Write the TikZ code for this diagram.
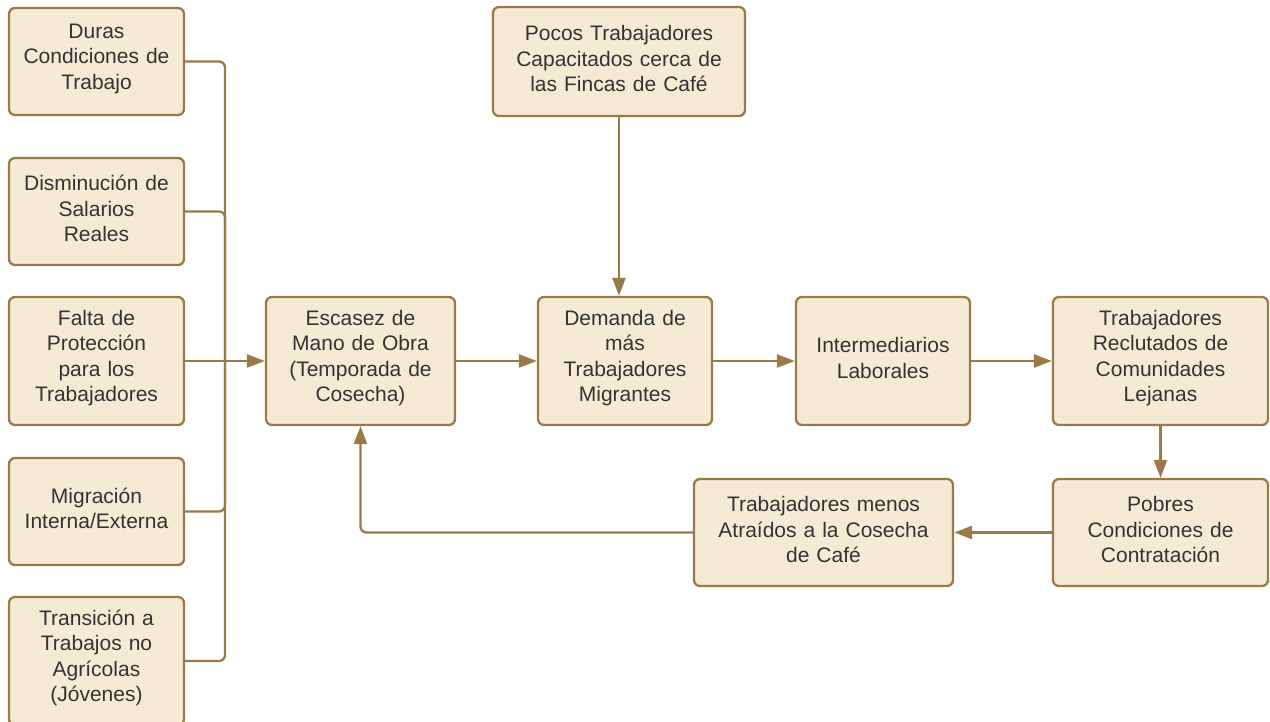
\documentclass[tikz,border=0pt]{standalone}
\usepackage{fontspec}
\setmainfont{Liberation Sans}
\usetikzlibrary{arrows.meta,positioning}
\definecolor{boxfill}{HTML}{F5EBD4}
\definecolor{boxline}{HTML}{9A7A47}
\definecolor{textcol}{HTML}{333333}
\begin{document}
\begin{tikzpicture}[x=1pt,y=-1pt,
        main node/.style={draw=boxline,fill=boxfill,line width=2.3pt,rounded corners=6pt,
            align=center,inner sep=0pt,text=textcol,font=\fontsize{21}{25.5}\selectfont,
            text width=#1,execute at end node={\vspace*{6pt}}},
        main node/.default=175pt,
        edge line/.style={draw=boxline,line width=2.3pt,rounded corners=6pt},
        arrow line/.style={edge line,-{Triangle[length=18pt,width=13pt]}}]

        \useasboundingbox (0,0) rectangle (1270,721);

        % Define vertices
        \node[main node,minimum height=107pt] (duras) at (96.5,61.5) {Duras\\Condiciones de\\Trabajo};
        \node[main node,minimum height=107pt] (salarios) at (96.5,211.5) {Disminución de\\Salarios\\Reales};
        \node[main node,minimum height=128pt] (proteccion) at (96.5,361) {Falta de\\Protección\\para los\\Trabajadores};
        \node[main node,minimum height=107pt] (migracion) at (96.5,511.5) {Migración\\Interna/Externa};
        \node[main node,minimum height=128pt] (transicion) at (96.5,661) {Transición a\\Trabajos no\\Agrícolas\\(Jóvenes)};

        \node[main node=189pt,minimum height=128pt] (escasez) at (360.5,361) {Escasez de\\Mano de Obra\\(Temporada de\\Cosecha)};
        \node[main node=174pt,minimum height=128pt] (demanda) at (625,361) {Demanda de\\más\\Trabajadores\\Migrantes};
        \node[main node=252pt,minimum height=109pt] (pocos) at (619,61.5) {Pocos Trabajadores\\Capacitados cerca de\\las Fincas de Café};
        \node[main node=174pt,minimum height=128pt] (interm) at (883,361) {Intermediarios\\Laborales};
        \node[main node=215pt,minimum height=128pt] (reclut) at (1160.5,361) {Trabajadores\\Reclutados de\\Comunidades\\Lejanas};
        \node[main node=215pt,minimum height=107pt] (pobres) at (1160.5,532.5) {Pobres\\Condiciones de\\Contratación};
        \node[main node=259pt,minimum height=107pt] (menos) at (823.5,532.5) {Trabajadores menos\\Atraídos a la Cosecha\\de Café};

        \coordinate (bus) at (225,361);

        % Draw edges
        \path[edge line] (duras.east) -| (bus);
        \path[edge line] (salarios.east) -| (bus);
        \path[edge line] (migracion.east) -| (bus);
        \path[edge line] (transicion.east) -| (bus);
        \path[arrow line] (proteccion.east) -- (escasez.west);

        \path[arrow line] (escasez.east) -- (demanda.west);
        \path[arrow line] (pocos.south) -- (pocos.south |- demanda.north);
        \path[arrow line] (demanda.east) -- (interm.west);
        \path[arrow line] (interm.east) -- (reclut.west);
        \path[arrow line] (reclut.south) -- (pobres.north);
        \path[arrow line] (pobres.west) -- (menos.east);
        \path[arrow line] (menos.west) -| (escasez.south);

\end{tikzpicture}
\end{document}
